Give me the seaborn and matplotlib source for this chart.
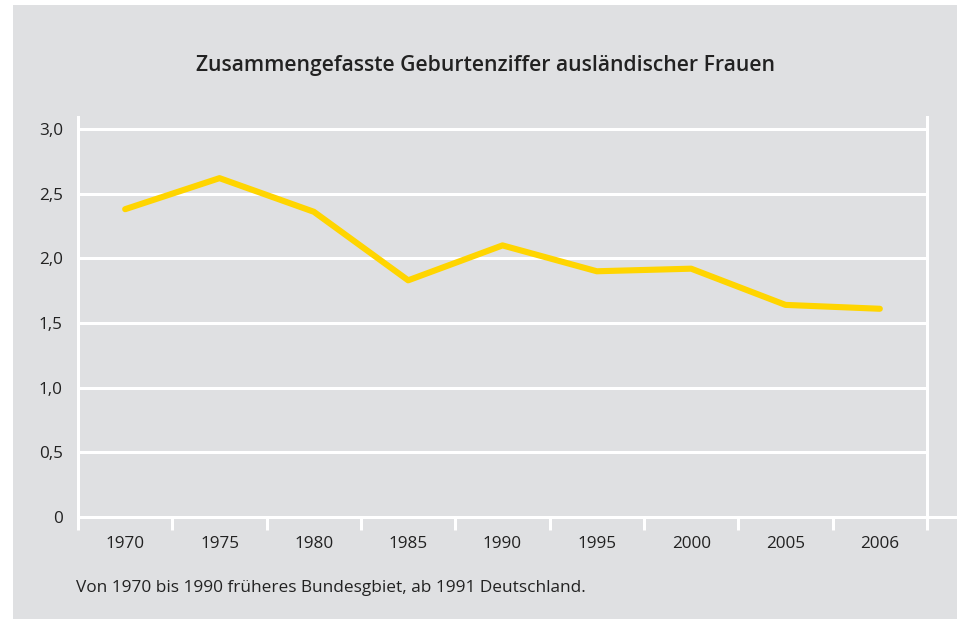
import numpy as np
import pandas as pd
import seaborn as sns
import matplotlib.pyplot as plt
from matplotlib.patches import Rectangle


# Zusammengefasste Geburtenziffer auslaendischer Frauen, 1970-2006

jahre = ["1970", "1975", "1980", "1985", "1990", "1995", "2000", "2005", "2006"]
geburtenziffer = [2.38, 2.62, 2.36, 1.83, 2.10, 1.90, 1.92, 1.64, 1.61]
y_ticks = [0, 0.5, 1.0, 1.5, 2.0, 2.5, 3.0]
y_labels = ["0", "0,5", "1,0", "1,5", "2,0", "2,5", "3,0"]

grau = "#dfe0e2"
gelb = "#ffd500"
text_farbe = "#222222"

sns.set_theme(style="white")
plt.rcParams["font.family"] = ["Open Sans", "DejaVu Sans"]

df = pd.DataFrame({"jahr": jahre, "wert": geburtenziffer})

W, H = 957, 619
fig = plt.figure(figsize=(W / 100, H / 100), dpi=100, facecolor="white")
fig.patches.append(Rectangle((13 / W, 0), 1, 1 - 5 / H, transform=fig.transFigure,
                             facecolor=grau, edgecolor="none", zorder=-10))

# Achse: links 78 px, rechts 927 px, 0 bei 517 px, oben 117 px
ax = fig.add_axes([78 / W, 1 - 517 / H, (927 - 78) / W, (517 - 117) / H])
ax.set_facecolor(grau)

sns.lineplot(data=df, x="jahr", y="wert", ax=ax, color=gelb, linewidth=4.4,
             sort=False, zorder=3)

ax.set_xlim(-0.5, len(jahre) - 0.5)
ax.set_ylim(0, 3.0 * 400 / 388)
ax.set_yticks(y_ticks)
ax.set_yticklabels(y_labels)
ax.set_xticks(range(len(jahre)))
ax.set_xticklabels(jahre)
ax.set_xticks(np.arange(-0.5, len(jahre)), minor=True)
ax.set_xlabel("")
ax.set_ylabel("")

for y in y_ticks[1:]:
    ax.axhline(y, color="white", linewidth=2.2, zorder=1)

ax.tick_params(axis="y", length=0, pad=11, labelsize=12.3, labelcolor=text_farbe)
ax.tick_params(axis="x", which="major", length=0, pad=14, labelsize=12.3,
               labelcolor=text_farbe)
ax.tick_params(axis="x", which="minor", length=9, width=2.2, color="white",
               direction="out", bottom=True)

for side in ["left", "right"]:
    ax.spines[side].set_color("white")
    ax.spines[side].set_linewidth(2.2)
ax.spines["top"].set_visible(False)
ax.spines["bottom"].set_visible(False)
ax.plot([0, (957 - 78) / (927 - 78)], [0, 0], transform=ax.transAxes,
        color="white", linewidth=2.2, clip_on=False, zorder=2)

fig.text(485 / W, 1 - 66 / H, "Zusammengefasste Geburtenziffer ausländischer Frauen",
         ha="center", va="center", fontsize=15.2, fontweight="semibold", color=text_farbe)
fig.text(76 / W, 1 - 588 / H, "Von 1970 bis 1990 früheres Bundesgbiet, ab 1991 Deutschland.",
         ha="left", va="center", fontsize=12.4, color=text_farbe)

fig.savefig("out.png", dpi=100)
plt.close(fig)
